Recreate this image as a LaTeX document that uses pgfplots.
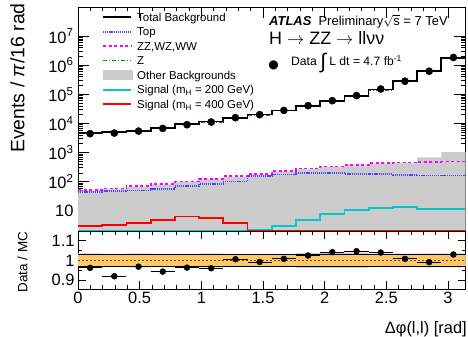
\documentclass[border=0pt]{standalone}
\usepackage{pgfplots}
\pgfplotsset{compat=1.18}
\usepackage{pgfplotstable}
\usepackage{fontspec}
\setmainfont{Liberation Sans}
\newfontfamily\dejavu{DejaVu Sans}

\definecolor{myblue}{RGB}{70,70,255}
\definecolor{mymag}{RGB}{255,0,255}
\definecolor{mygreen}{RGB}{0,150,0}
\definecolor{mycyan}{RGB}{0,200,205}
\definecolor{myred}{RGB}{255,0,0}
\definecolor{mygray}{RGB}{204,204,204}
\definecolor{myorange}{RGB}{255,200,100}

% bin left edges (last row repeats last bin at x = pi)
\pgfplotstableread{
x        tot      z        top   zz    oth    s200  s400
0.00000  4595     4460     42.8  51.8  50.0   2.0   2.97
0.19635  5060     4910     46.3  57.4  55.5   2.0   3.29
0.39270  5600     5430     49.0  68.9  66.5   2.0   3.77
0.58905  7130     6920     56.0  83.3  80.5   2.0   4.78
0.78540  9350     9070     68.9  100   97     2.0   6.35
0.98175  11560    11210    83.3  124   120    2.0   5.74
1.17810  15600    15130    100   152   147    2.0   3.77
1.37445  20060    19460    157   184   178    2.2   2.0
1.57080  27780    26950    174   234   226    2.97  2.0
1.76715  39600    38410    199   281   272    4.78  2.0
1.96350  57870    56130    199   329   318    7.7   2.0
2.15984  86050    83470    184   365   353    10.6  2.0
2.35619  146150   141770   179   428   414    12.7  2.0
2.55254  278800   270440   170   452   437    13.0  2.0
2.74889  626600   607800   161   478   673    11.7  2.0
2.94524  1786000  1732400  161   489   1023   11.1  2.0
3.14159  1786000  1732400  161   489   1023   11.1  2.0
}\bins

\pgfplotstableread{
xc       data     ratio
0.09817  4420     0.962
0.29452  4650     0.919
0.49087  5420     0.968
0.68722  6720     0.943
0.88357  9000     0.963
1.07992  11100    0.960
1.27627  15700    1.006
1.47262  19900    0.992
1.66897  28000    1.008
1.86532  40600    1.025
2.06167  60300    1.042
2.25802  90100    1.047
2.45437  152000   1.040
2.65072  281000   1.008
2.84707  621000   0.991
3.04342  1840000  1.030
}\pts

\begin{document}
\begin{tikzpicture}
\useasboundingbox (0,0) rectangle (468bp,337bp);
\pgfplotsset{
  every axis/.append style={
    scale only axis,
    width=387.5bp,
    xmin=0, xmax=3.14159,
    tick align=inside,
    major tick length=9bp,
    minor tick length=4.5bp,
    tick style={black, line width=0.6bp},
    axis line style={line width=0.8bp},
    tick label style={font=\fontsize{16.5}{17}\selectfont},
    /pgf/number format/assume math mode=true,
    xtick={0,0.5,1,1.5,2,2.5,3},
    minor x tick num=4,
  }
}
\begin{axis}[
  at={(78bp,106bp)}, anchor=south west,
  height=224bp,
  ymode=log, ymin=2, ymax=1e8,
  xticklabels={},
  ytick={10,100,1000,10000,100000,1000000,10000000},
  yticklabels={10,10\textsuperscript{2},10\textsuperscript{3},10\textsuperscript{4},10\textsuperscript{5},10\textsuperscript{6},10\textsuperscript{7}},
  yticklabel style={xshift=-1bp},
  major tick length=11bp,
]
\addplot[fill=mygray, draw=none, const plot mark left] table[x=x, y=oth] {\bins} \closedcycle;
\addplot[mygreen, line width=1.3bp, dash pattern=on 4bp off 2bp on 1bp off 2bp, const plot mark left] table[x=x, y=z] {\bins};
\addplot[myblue, line width=1.6bp, dash pattern=on 1.2bp off 0.9bp, const plot mark left] table[x=x, y=top] {\bins};
\addplot[mymag, line width=1.8bp, dash pattern=on 3bp off 2.5bp, const plot mark left] table[x=x, y=zz] {\bins};
\addplot[mycyan, line width=1.8bp, const plot mark left] table[x=x, y=s200] {\bins};
\addplot[myred, line width=1.8bp, const plot mark left] table[x=x, y=s400] {\bins};
\addplot[black, line width=1.7bp, const plot mark left] table[x=x, y=tot] {\bins};
\addplot[only marks, mark=*, mark size=3.6bp, black] table[x=xc, y=data] {\pts};
\end{axis}

\begin{axis}[
  at={(78bp,48bp)}, anchor=south west,
  height=58bp,
  ymin=0.854, ymax=1.15,
  ytick={0.9,1,1.1},
  yticklabels={0.9,1,1.1},
  minor y tick num=1,
  major tick length=8bp,
  minor tick length=4bp,
  xticklabels={0,0.5,1,1.5,2,2.5,3},
]
% MC uncertainty per bin (gray)
\addplot[fill=mygray, draw=none] coordinates {
(0,1.036)(0.19635,1.036)(0.19635,1.032)(0.3927,1.032)(0.3927,1.036)(0.58905,1.036)(0.58905,1.032)(0.98175,1.032)(0.98175,1.036)(1.1781,1.036)(1.1781,1.032)(1.76715,1.032)(1.76715,1.038)(1.9635,1.038)(1.9635,1.040)(2.35619,1.040)(2.35619,1.034)(2.74889,1.034)(2.74889,1.036)(3.14159,1.036)
(3.14159,0.964)(2.74889,0.964)(2.74889,0.966)(2.35619,0.966)(2.35619,0.962)(1.76715,0.962)(1.76715,0.968)(1.1781,0.968)(1.1781,0.964)(0.98175,0.964)(0.98175,0.968)(0.58905,0.968)(0.58905,0.964)(0.3927,0.964)(0.3927,0.968)(0.19635,0.968)(0.19635,0.964)(0,0.964)(0,1.036)};
\addplot[fill=myorange, draw=none] coordinates {(0,0.97) (3.14159,0.97) (3.14159,1.03) (0,1.03) (0,0.97)};
\addplot[black, line width=0.9bp] coordinates {(0,0.97) (3.14159,0.97)};
\addplot[black, line width=0.9bp] coordinates {(0,1.03) (3.14159,1.03)};
\addplot[black!70, line width=1bp, dash pattern=on 2bp off 2bp] coordinates {(0,1) (3.14159,1)};
\addplot[only marks, mark=*, mark size=3bp, black,
  error bars/.cd, x dir=both, x fixed=0.09817, y dir=both, y fixed=0.006,
  error mark=none, error bar style={line width=0.8bp}] table[x=xc, y=ratio] {\pts};
\end{axis}

% legend (drawn by hand)
\begin{scope}[every node/.style={anchor=base west, inner sep=0pt, font=\fontsize{11.5}{13}\selectfont}]
\draw[black, line width=1.6bp] (103bp,319.7bp) -- (131bp,319.7bp);
\node at (137bp,315.6bp) {Total Background};
\draw[myblue, line width=1.6bp, dash pattern=on 1.2bp off 0.9bp] (103bp,305.2bp) -- (131bp,305.2bp);
\node at (137bp,301.1bp) {Top};
\draw[mymag, line width=1.8bp, dash pattern=on 3bp off 2.5bp] (103bp,290.7bp) -- (131bp,290.7bp);
\node at (137bp,286.6bp) {ZZ,WZ,WW};
\draw[mygreen, line width=1.3bp, dash pattern=on 4bp off 2bp on 1bp off 2bp] (103bp,276.2bp) -- (131bp,276.2bp);
\node at (137bp,272.1bp) {Z};
\fill[mygray] (103bp,256.7bp) rectangle (133bp,266.7bp);
\node at (137bp,257.6bp) {Other Backgrounds};
\draw[mycyan, line width=1.8bp] (103bp,247.2bp) -- (131bp,247.2bp);
\node at (137bp,243.1bp) {Signal (m\textsubscript{H} = 200 GeV)};
\draw[myred, line width=1.8bp] (103bp,232.7bp) -- (131bp,232.7bp);
\node at (137bp,228.6bp) {Signal (m\textsubscript{H} = 400 GeV)};
\end{scope}

% texts
\node[anchor=base west, inner sep=0pt, text height=9.5bp, text depth=2.5bp] at (269bp,311.8bp) {\fontsize{13}{13}\selectfont\bfseries\itshape ATLAS\ \ \mdseries\upshape Preliminary$\sqrt{\mbox{s}}$ = 7 TeV};
\node[anchor=base west, inner sep=0pt, text height=13bp, text depth=0bp] at (269bp,292.8bp) {\fontsize{18}{19}\selectfont H $\rightarrow$ ZZ $\rightarrow$ llνν};
\node[inner sep=0pt] at (273.5bp,271.5bp) {\dejavu\fontsize{12}{12}\selectfont ●};
\node[anchor=west, inner sep=0pt] at (291bp,274bp) {\fontsize{12.2}{13}\selectfont Data \raisebox{-0.25em}{\fontsize{21}{21}\selectfont ∫} L dt = 4.7 fb\textsuperscript{-1}};
\node[rotate=90, inner sep=0pt] at (17.5bp,259bp) {\fontsize{19.5}{20}\selectfont Events / \textit{π}/16 rad};
\node[rotate=90, inner sep=0pt] at (22.5bp,75bp) {\fontsize{13.5}{14}\selectfont Data / MC};
\node[anchor=east, inner sep=0pt] at (467bp,8bp) {\fontsize{16.5}{17}\selectfont Δφ(l,l) [rad]};
\end{tikzpicture}
\end{document}
